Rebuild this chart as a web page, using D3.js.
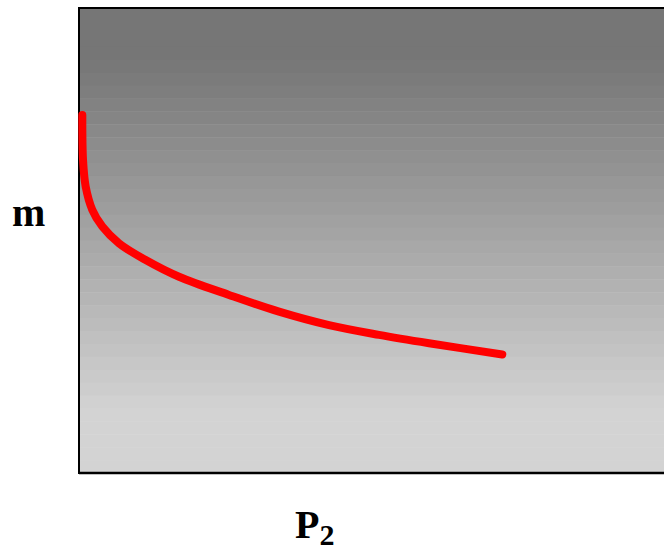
<!DOCTYPE html>
<html><head><meta charset="utf-8">
<script src="https://cdn.jsdelivr.net/npm/d3@7"></script>
<style>body{margin:0;background:#fff}svg{display:block}</style>
</head><body>
<svg id="c" width="664" height="552"></svg>
<script>
const xVals = [0.055,0.067,0.111,0.221,0.388,0.666,1.110,1.664,2.496,3.328,4.160,4.992,5.824,7.043];
const yVals = [7.70,6.73,6.16,5.66,5.30,4.94,4.58,4.22,3.83,3.47,3.18,2.97,2.79,2.55];
const xLabel = "P", xSub = "2", yLabel = "m";

const svg = d3.select("#c");
const x = d3.scaleLinear().domain([0,10]).range([79,680]);
const y = d3.scaleLinear().domain([0,10]).range([473,8]);

// banded gradient background
const bands = 36;
const bandH = (473-8)/bands;
const shade = d3.scaleLinear().domain([60, 410]).range([118, 211]).clamp(true);
const g = svg.append("g");
d3.range(bands).forEach(i => {
  const yc = 8 + (i+0.5)*bandH;
  const v = Math.round(shade(yc));
  g.append("rect").attr("x",79).attr("y",8+i*bandH).attr("width",620).attr("height",bandH+0.5)
   .attr("fill",`rgb(${v},${v},${v})`);
});
// frame
svg.append("line").attr("x1",79).attr("x2",700).attr("y1",8).attr("y2",8).attr("stroke","#000").attr("stroke-width",2);
svg.append("line").attr("x1",79).attr("x2",700).attr("y1",473).attr("y2",473).attr("stroke","#000").attr("stroke-width",2.5);
svg.append("line").attr("x1",79).attr("x2",79).attr("y1",7).attr("y2",474).attr("stroke","#000").attr("stroke-width",2);

const pts = xVals.map((d,i)=>[d,yVals[i]]);
const line = d3.line().x(d=>x(d[0])).y(d=>y(d[1])).curve(d3.curveCatmullRom.alpha(0.5));
svg.append("path").attr("d",line(pts)).attr("fill","none").attr("stroke","#ff0000")
  .attr("stroke-width",8).attr("stroke-linecap","round").attr("stroke-linejoin","round");

svg.append("text").attr("x",12).attr("y",226).attr("font-family","Liberation Serif, serif")
  .attr("font-weight","bold").attr("font-size",40).text(yLabel);
const t = svg.append("text").attr("x",295).attr("y",538).attr("font-family","Liberation Serif, serif")
  .attr("font-weight","bold").attr("font-size",40);
t.append("tspan").text(xLabel);
t.append("tspan").attr("font-size",30).attr("dy",7).text(xSub);
</script>
</body></html>
